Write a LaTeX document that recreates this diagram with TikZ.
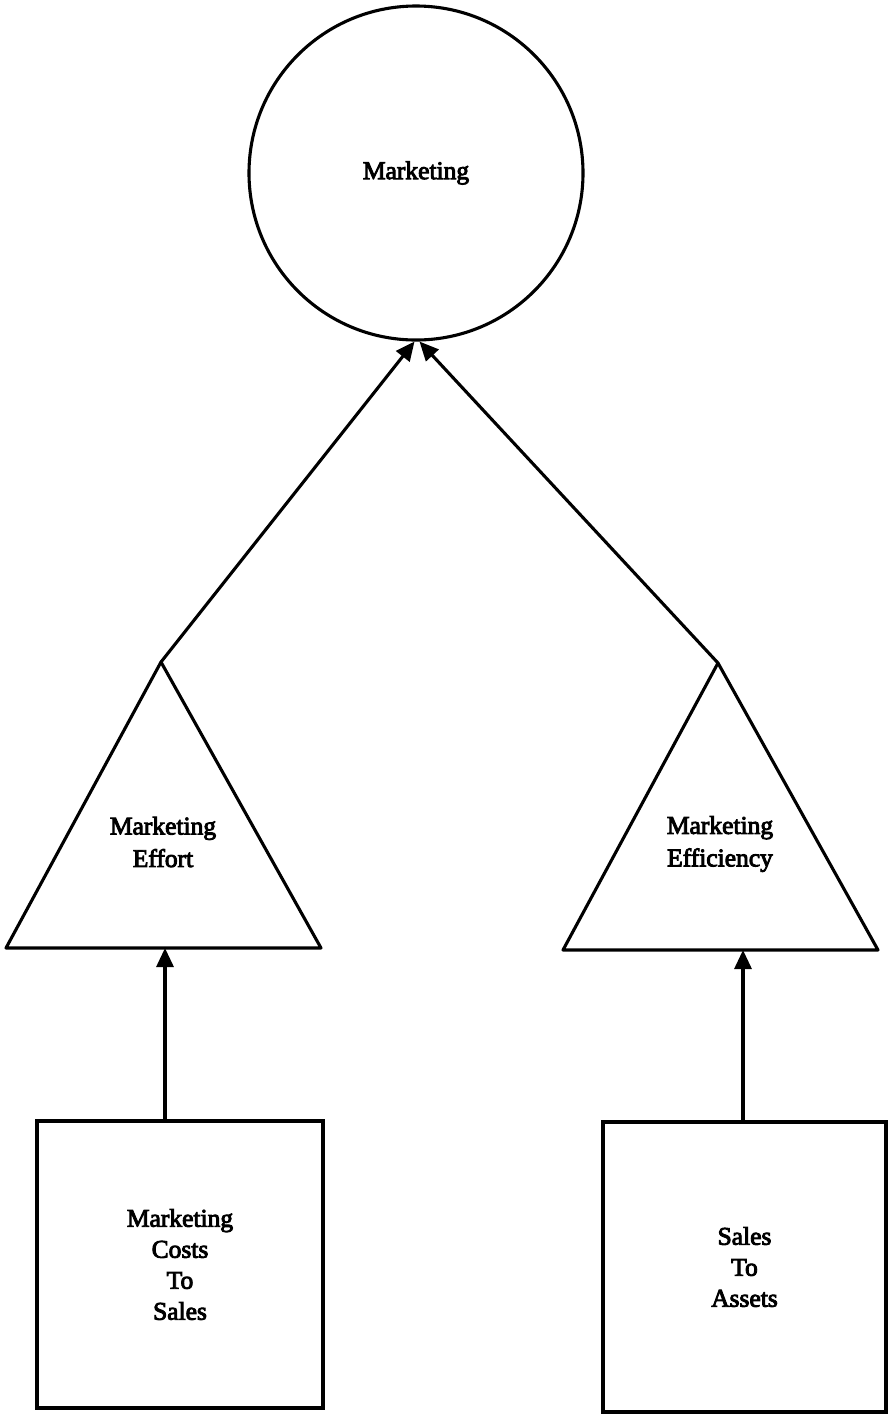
\documentclass[tikz,border=0pt]{standalone}
\usepackage{fontspec}
\setmainfont[FakeBold=3.5]{Liberation Serif}
\usetikzlibrary{arrows.meta}
\begin{document}
\begin{tikzpicture}[x=1pt,y=-1pt,
  line/.style={line width=3.1pt,line join=round,line cap=round},
  link/.style={line,-{Triangle[length=19pt,width=17pt]}},
  lbl/.style={font=\fontsize{25.5}{32.5}\selectfont,align=center,inner sep=0pt},
  boxnode/.style={draw,line width=3.1pt,inner sep=0pt,font=\fontsize{25.5}{31}\selectfont,align=center}]
\useasboundingbox (0,0) rectangle (891,1414);

% top-level concept
\node[draw,circle,line width=3.1pt,minimum size=334pt,inner sep=0pt,
      font=\fontsize{25.5}{31}\selectfont] (mkt) at (416,173) {Marketing};

% left triangle: marketing effort
\coordinate (lapex) at (161,662);
\coordinate (lbl) at (6,948);
\coordinate (lbr) at (321,948);
\coordinate (lbase) at (165,948);
\draw[line] (lapex) -- (lbl) -- (lbr) -- cycle;
\node[lbl] (effort) at (163,842) {Marketing\\Effort};

% right triangle: marketing efficiency
\coordinate (rapex) at (718,663);
\coordinate (rbl) at (563,950);
\coordinate (rbr) at (878,950);
\coordinate (rbase) at (743,950);
\draw[line] (rapex) -- (rbl) -- (rbr) -- cycle;
\node[lbl] (efficiency) at (720,844) {Marketing\\Efficiency};

% ratio boxes
\node[boxnode,minimum width=286pt,minimum height=287pt] (lbox) at (180,1264.5)
  {Marketing\\Costs\\To\\Sales};
\node[boxnode,minimum width=283pt,minimum height=290pt] (rbox) at (744.5,1267)
  {Sales\\To\\Assets};

% connectors
\draw[link] (lapex) -- ([xshift=-1.5pt]mkt.south);
\draw[link] (rapex) -- ([xshift=3.5pt]mkt.south);
\draw[link] (lbase |- lbox.north) -- (lbase);
\draw[link] (rbase |- rbox.north) -- (rbase);
\end{tikzpicture}
\end{document}
